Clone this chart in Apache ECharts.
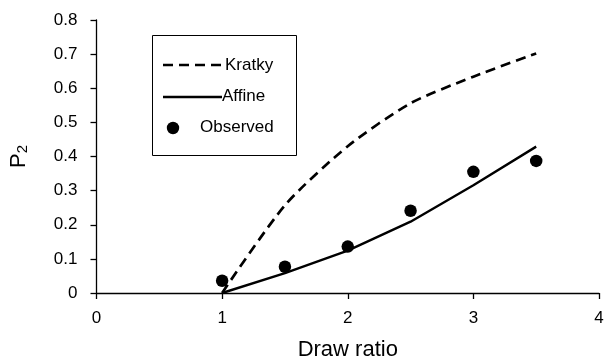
<!DOCTYPE html>
<html>
<head>
<meta charset="utf-8">
<script src="https://cdn.jsdelivr.net/npm/echarts@6/dist/echarts.min.js"></script>
<style>html,body{margin:0;padding:0;background:#fff;}#c{width:609px;height:360px;}</style>
</head>
<body>
<div id="c"></div>
<script>
var drawRatio = [1, 1.5, 2, 2.5, 3, 3.5];
var kratky = [0, 0.257, 0.43, 0.556, 0.634, 0.702];
var affine = [0, 0.058, 0.124, 0.209, 0.316, 0.429];
var observed = [0.036, 0.077, 0.136, 0.241, 0.355, 0.387];
var xTicks = [0, 1, 2, 3, 4];
var yTicks = [0, 0.1, 0.2, 0.3, 0.4, 0.5, 0.6, 0.7, 0.8];

function pairs(xs, ys) { return xs.map(function (x, i) { return [x, ys[i]]; }); }

var font = '"Liberation Sans", Arial, sans-serif';
var chart = echarts.init(document.getElementById('c'));
chart.setOption({
  animation: false,
  backgroundColor: '#fff',
  grid: { left: 96.5, right: 10, top: 20, bottom: 67, containLabel: false, outerBoundsMode: 'none' },
  xAxis: {
    type: 'value', min: 0, max: 4, interval: 1,
    name: 'Draw ratio', nameLocation: 'middle', nameGap: 46,
    nameTextStyle: { color: '#000', fontSize: 22, fontFamily: font },
    axisLine: { onZero: false, lineStyle: { color: '#000', width: 1.3 } },
    axisTick: { show: true, length: 6, inside: false, lineStyle: { color: '#000', width: 1.3 } },
    axisLabel: { color: '#000', fontSize: 17, fontFamily: font, margin: 17,
      formatter: function (v) { return xTicks.indexOf(v) >= 0 ? String(v) : ''; } },
    splitLine: { show: false }
  },
  yAxis: {
    type: 'value', min: 0, max: 0.8, interval: 0.1,
    name: '{a|P}{b|2}', nameLocation: 'middle', nameGap: 66, nameRotate: 90,
    nameTextStyle: { color: '#000', fontFamily: font,
      rich: { a: { fontSize: 22, color: '#000', fontFamily: font },
              b: { fontSize: 15, color: '#000', fontFamily: font, padding: [9, 0, 0, 0] } } },
    axisLine: { show: true, onZero: false, lineStyle: { color: '#000', width: 1.3 } },
    axisTick: { show: true, length: 6, inside: false, lineStyle: { color: '#000', width: 1.3 } },
    axisLabel: { color: '#000', fontSize: 17, fontFamily: font, margin: 19,
      formatter: function (v) {
        var r = Math.round(v * 10) / 10;
        return yTicks.indexOf(r) >= 0 ? (r === 0 ? '0' : r.toFixed(1)) : '';
      } },
    splitLine: { show: false }
  },
  series: [
    { name: 'Kratky', type: 'line', data: pairs(drawRatio, kratky), symbol: 'none', smooth: 0.25,
      lineStyle: { color: '#000', width: 2.7, type: [10, 6] } },
    { name: 'Affine', type: 'line', data: pairs(drawRatio, affine), symbol: 'none',
      lineStyle: { color: '#000', width: 2.4 } },
    { name: 'Observed', type: 'scatter', data: pairs(drawRatio, observed), symbol: 'circle', symbolSize: 12.5,
      itemStyle: { color: '#000', opacity: 1 } }
  ],
  graphic: [
    { type: 'rect', shape: { x: 152.5, y: 35.5, width: 144, height: 120 },
      style: { fill: '#fff', stroke: '#000', lineWidth: 1 }, z: 10 },
    { type: 'line', shape: { x1: 163, y1: 65, x2: 222, y2: 65 },
      style: { stroke: '#000', lineWidth: 2.7, lineDash: [10, 6] }, z: 11 },
    { type: 'text', x: 225, y: 65, style: { text: 'Kratky', fill: '#000', font: '17px ' + font, textVerticalAlign: 'middle' }, z: 11 },
    { type: 'line', shape: { x1: 163, y1: 97, x2: 222, y2: 97 },
      style: { stroke: '#000', lineWidth: 2.4 }, z: 11 },
    { type: 'text', x: 222, y: 96, style: { text: 'Affine', fill: '#000', font: '17px ' + font, textVerticalAlign: 'middle' }, z: 11 },
    { type: 'circle', shape: { cx: 173, cy: 128, r: 6.2 }, style: { fill: '#000' }, z: 11 },
    { type: 'text', x: 200, y: 127, style: { text: 'Observed', fill: '#000', font: '17px ' + font, textVerticalAlign: 'middle' }, z: 11 }
  ]
});
</script>
</body>
</html>
